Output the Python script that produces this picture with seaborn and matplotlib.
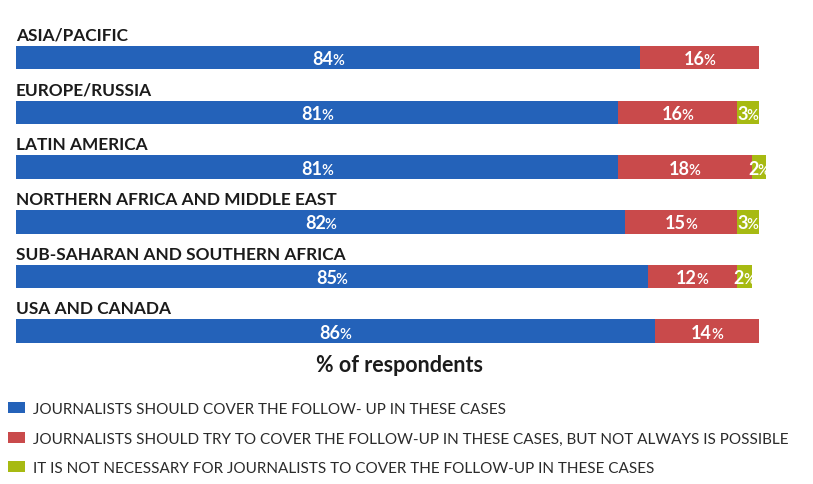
import matplotlib
matplotlib.use("Agg")
import matplotlib.pyplot as plt
from matplotlib.patches import Patch
import pandas as pd
import seaborn as sns

# Survey results by region (% of respondents)
regions = ["ASIA/PACIFIC", "EUROPE/RUSSIA", "LATIN AMERICA",
           "NORTHERN AFRICA AND MIDDLE EAST", "SUB-SAHARAN AND SOUTHERN AFRICA",
           "USA AND CANADA"]
should_cover = [84, 81, 81, 82, 85, 86]
should_try = [16, 16, 18, 15, 12, 14]
not_necessary = [0, 3, 2, 3, 2, 0]

series_names = [
    "JOURNALISTS SHOULD COVER THE FOLLOW- UP IN THESE CASES",
    "JOURNALISTS SHOULD TRY TO COVER THE FOLLOW-UP IN THESE CASES, BUT NOT ALWAYS IS POSSIBLE",
    "IT IS NOT NECESSARY FOR JOURNALISTS TO COVER THE FOLLOW-UP IN THESE CASES",
]
axis_title = "% of respondents"
colors = ["#2462b9", "#c94a4b", "#a7ba12"]

sns.set_theme(style="white")
plt.rcParams["font.family"] = ["Lato", "DejaVu Sans"]

W, H = 813, 485
fig = plt.figure(figsize=(W / 100, H / 100), dpi=100)
fig.patch.set_facecolor("white")

XMAX = 102
left_px = 16
right_px = left_px + 743 * XMAX / 100
top_px, bot_px = 31.3, 359.5
ax = fig.add_axes([left_px / W, 1 - bot_px / H,
                   (right_px - left_px) / W, (bot_px - top_px) / H])

df = pd.DataFrame({"region": regions, "a": should_cover,
                   "b": should_try, "c": not_necessary})
df["end_a"] = df["a"]
df["end_b"] = df["a"] + df["b"]
df["end_c"] = df["end_b"] + df["c"]

BAR_W = 0.43
# stacked bars: draw cumulative totals back to front
for col, color in [("end_c", colors[2]), ("end_b", colors[1]), ("end_a", colors[0])]:
    sns.barplot(data=df, x=col, y="region", orient="h", color=color,
                width=BAR_W, saturation=1, linewidth=0, ax=ax)

ax.set_xlim(0, XMAX)
ax.set_ylim(5.5, -0.5)
ax.axis("off")

# region names above each bar
for i, name in enumerate(regions):
    ax.annotate(name, xy=(0, i - BAR_W / 2), xytext=(0, 4.3),
                textcoords="offset points", ha="left", va="baseline",
                fontsize=12.4, fontweight="bold", color="#1b1b1b")

# value labels: bold number followed by a smaller percent sign
labels = []
for i in range(len(regions)):
    start = 0
    for col in ["a", "b", "c"]:
        v = df.loc[i, col]
        if v > 0:
            cx = start + v / 2
            t_num = ax.text(cx, i + 0.12, f"{v}", ha="right", va="baseline",
                            fontsize=13, fontweight="bold", color="white")
            t_pct = ax.text(cx, i + 0.12, "%", ha="left", va="baseline",
                            fontsize=10.5, fontweight="semibold", color="white")
            labels.append((cx, t_num, t_pct))
        start += v

fig.canvas.draw()
renderer = fig.canvas.get_renderer()
px_per_unit = (right_px - left_px) / XMAX
tight = 1.0 / px_per_unit  # pull the percent sign slightly toward the number
for cx, t_num, t_pct in labels:
    w_num = t_num.get_window_extent(renderer).width
    w_pct = t_pct.get_window_extent(renderer).width
    shift = (w_num - w_pct) / 2 / px_per_unit
    y = t_num.get_position()[1]
    t_num.set_position((cx + shift + tight / 2, y))
    t_pct.set_position((cx + shift - tight / 2, y))

fig.text(399 / W, 1 - 366 / H, axis_title, ha="center", va="center",
         fontsize=15.5, fontweight="bold", color="#1b1b1b")

handles = [Patch(facecolor=c, edgecolor="none") for c in colors]
leg = fig.legend(handles, series_names, loc="upper left",
                 bbox_to_anchor=(8 / W, 1 - 403 / H), frameon=False,
                 borderpad=0, borderaxespad=0, handlelength=1.1,
                 handleheight=0.7, handletextpad=0.55, labelspacing=1.02,
                 prop={"family": ["Lato", "DejaVu Sans"], "size": 11})
for t in leg.get_texts():
    t.set_color("#2b2b2b")

fig.savefig("out.png", dpi=100, facecolor="white")
